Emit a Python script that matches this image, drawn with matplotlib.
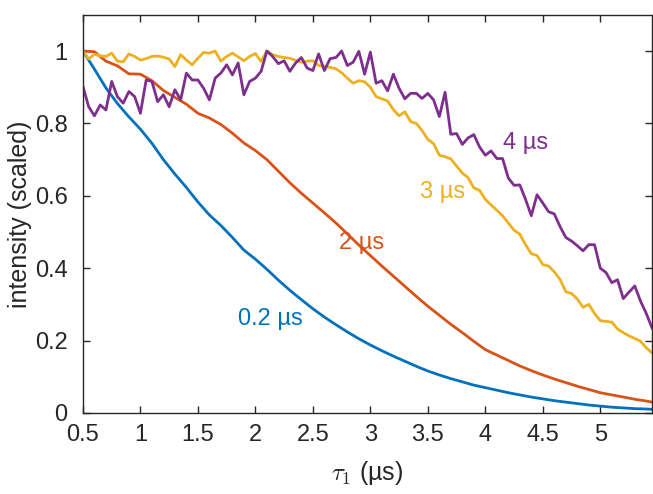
import numpy as np
import matplotlib
matplotlib.use("Agg")
import matplotlib.pyplot as plt

# echo-decay traces, intensity scaled to 1
tau_coarse = np.append(np.round(np.arange(0.5, 5.41, 0.1), 2), 5.45)
tau_fine = np.round(np.arange(0.5, 5.451, 0.05), 2)

i_02us = [1.000, 0.950, 0.898, 0.855, 0.818, 0.784, 0.745, 0.700, 0.660, 0.623,
          0.583, 0.547, 0.518, 0.485, 0.450, 0.425, 0.397, 0.367, 0.339, 0.313,
          0.288, 0.265, 0.244, 0.224, 0.205, 0.188, 0.172, 0.157, 0.143, 0.129,
          0.116, 0.105, 0.095, 0.086, 0.077, 0.070, 0.063, 0.056, 0.050, 0.044,
          0.039, 0.034, 0.030, 0.026, 0.022, 0.019, 0.016, 0.014, 0.012, 0.011,
          0.010]

i_2us = [1.000, 0.998, 0.972, 0.959, 0.937, 0.936, 0.918, 0.891, 0.872, 0.853,
         0.828, 0.815, 0.797, 0.773, 0.746, 0.725, 0.700, 0.668, 0.636, 0.607,
         0.580, 0.553, 0.525, 0.495, 0.464, 0.435, 0.406, 0.378, 0.350, 0.322,
         0.295, 0.270, 0.245, 0.222, 0.198, 0.175, 0.160, 0.145, 0.130, 0.117,
         0.105, 0.094, 0.084, 0.074, 0.065, 0.056, 0.050, 0.044, 0.038, 0.033,
         0.030]

i_3us = [1.000, 0.978, 0.991, 0.987, 0.985, 0.994, 0.972, 0.970, 0.992, 0.985,
         0.975, 0.979, 0.985, 0.986, 0.983, 0.978, 0.957, 0.990, 0.975, 0.962,
         0.980, 0.996, 0.994, 1.000, 0.972, 0.985, 0.994, 0.984, 0.973, 0.985,
         0.993, 0.971, 1.000, 0.990, 0.985, 0.982, 0.980, 0.974, 0.969, 0.972,
         0.973, 0.960, 0.957, 0.955, 0.951, 0.940, 0.925, 0.911, 0.918, 0.915,
         0.900, 0.874, 0.868, 0.862, 0.838, 0.821, 0.832, 0.805, 0.800, 0.780,
         0.756, 0.744, 0.712, 0.708, 0.702, 0.682, 0.663, 0.650, 0.622, 0.615,
         0.590, 0.575, 0.560, 0.545, 0.525, 0.505, 0.494, 0.465, 0.440, 0.435,
         0.410, 0.406, 0.390, 0.369, 0.335, 0.330, 0.315, 0.292, 0.300, 0.275,
         0.255, 0.253, 0.251, 0.232, 0.222, 0.213, 0.206, 0.198, 0.180, 0.166]

i_4us = [0.902, 0.846, 0.821, 0.851, 0.837, 0.916, 0.874, 0.856, 0.888, 0.874,
         0.828, 0.920, 0.916, 0.860, 0.879, 0.846, 0.893, 0.865, 0.939, 0.920,
         0.920, 0.897, 0.865, 0.925, 0.939, 0.962, 0.934, 0.967, 0.879, 0.916,
         0.925, 0.944, 1.000, 0.985, 0.965, 0.973, 0.944, 0.967, 0.982, 0.953,
         0.946, 0.992, 0.946, 0.979, 0.982, 1.000, 0.960, 0.969, 0.999, 0.936,
         0.997, 0.911, 0.918, 0.890, 0.936, 0.897, 0.868, 0.883, 0.883, 0.869,
         0.883, 0.865, 0.819, 0.886, 0.770, 0.772, 0.742, 0.760, 0.769, 0.735,
         0.712, 0.724, 0.703, 0.703, 0.649, 0.629, 0.630, 0.590, 0.545, 0.603,
         0.580, 0.556, 0.550, 0.515, 0.485, 0.475, 0.462, 0.448, 0.465, 0.465,
         0.400, 0.388, 0.360, 0.368, 0.316, 0.334, 0.351, 0.309, 0.275, 0.235]

labels = ["0.2 µs", "2 µs", "3 µs", "4 µs"]
label_pos = [(1.85, 0.26), (2.73, 0.47), (3.43, 0.61), (4.15, 0.745)]
colors = ["#0072BD", "#D95319", "#EDB120", "#7E2F8E"]

plt.rcParams["font.family"] = ["Liberation Sans", "DejaVu Sans"]
plt.rcParams["mathtext.fontset"] = "cm"

fig = plt.figure(figsize=(6.53, 4.94), dpi=100)
ax = fig.add_axes([0.127, 0.164, 0.8715, 0.806])

ax.plot(tau_coarse, i_02us, color=colors[0], lw=2.0)
ax.plot(tau_coarse, i_2us, color=colors[1], lw=2.0)
ax.plot(tau_fine, i_3us, color=colors[2], lw=2.0)
ax.plot(tau_fine, i_4us, color=colors[3], lw=2.0)

for lab, (x, y), c in zip(labels, label_pos, colors):
    ax.text(x, y, lab, color=c, fontsize=17, va="center", ha="left")

ax.set_xlim(0.5, 5.45)
ax.set_ylim(0, 1.1)
ax.set_xticks([0.5, 1, 1.5, 2, 2.5, 3, 3.5, 4, 4.5, 5])
ax.set_xticklabels(["0.5", "1", "1.5", "2", "2.5", "3", "3.5", "4", "4.5", "5"])
ax.set_yticks([0, 0.2, 0.4, 0.6, 0.8, 1])
ax.set_yticklabels(["0", "0.2", "0.4", "0.6", "0.8", "1"])

axcol = "#262626"
ax.tick_params(direction="in", length=5, width=1, colors=axcol, labelsize=17,
               top=True, right=True)
ax.tick_params(axis="x", pad=8)
ax.tick_params(axis="y", pad=11)
for s in ax.spines.values():
    s.set_color(axcol)
    s.set_linewidth(1)

ax.set_xlabel(r"$\tau_{\mathsf{1}}$ (µs)", fontsize=18, color=axcol, labelpad=9)
ax.set_ylabel("intensity (scaled)", fontsize=18, color=axcol, labelpad=2)

fig.savefig("out.png", dpi=100)
